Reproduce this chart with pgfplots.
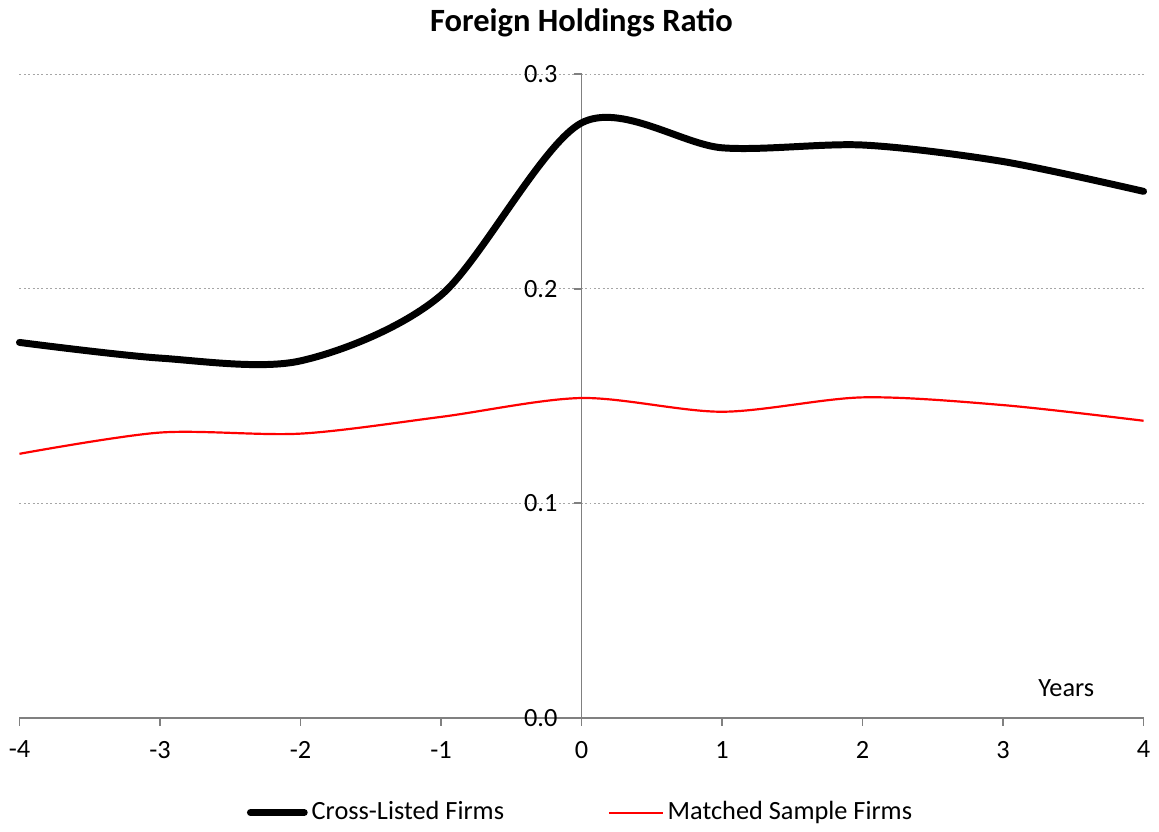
\documentclass[border=0pt]{standalone}
\usepackage{fontspec}
\setmainfont{Carlito}
\usepackage{pgfplots}
\pgfplotsset{compat=1.18}
\begin{document}
\fontsize{13.2}{15}\selectfont
\begin{tikzpicture}
\begin{axis}[
    scale only axis,
    width=564pt, height=323pt,
    xmin=-4, xmax=4, ymin=0, ymax=0.3,
    axis x line=bottom, axis y line=middle,
    axis line style={draw=gray, line width=0.9pt, -},
    hide obscured x ticks=false, hide obscured y ticks=false,
    xtick={-4,-3,-2,-1,0,1,2,3,4},
    ytick={0,0.1,0.2,0.3},
    tick align=outside,
    major tick length=4pt,
    tick style={draw=gray, line width=0.9pt},
    ymajorgrids=true,
    grid style={draw=gray!70, line width=0.4pt, dash pattern=on 1pt off 1.2pt},
    /pgf/number format/assume math mode=true,
    yticklabel={\pgfmathprintnumber[fixed, fixed zerofill, precision=1]{\tick}},
    xticklabel style={yshift=-3pt},
    yticklabel style={xshift=-3.5pt},
    title={\fontsize{16.3}{18}\selectfont\bfseries Foreign Holdings Ratio},
    title style={yshift=8pt},
    legend style={at={(0.5,-0.147)}, anchor=center, draw=none, fill=none,
        legend columns=2, font=\fontsize{13.2}{15}\selectfont,
        /tikz/every even column/.append style={column sep=50pt}},
    legend cell align=left,
    legend image code/.code={\draw[#1] (0pt,0pt) -- (27pt,0pt);},
    clip=false,
]
\addplot[black, line width=3.5pt, smooth, line cap=round] coordinates {
    (-4,0.1750) (-3,0.1677) (-2,0.1664) (-1,0.1970) (0,0.2773)
    (1,0.2657) (2,0.2670) (3,0.2593) (4,0.2454)};
\addlegendentry{Cross-Listed Firms}
\addplot[red, line width=1.1pt, smooth] coordinates {
    (-4,0.1231) (-3,0.1330) (-2,0.1325) (-1,0.1403) (0,0.1491)
    (1,0.1427) (2,0.1494) (3,0.1458) (4,0.1385)};
\addlegendentry{Matched Sample Firms}
\node at (axis cs:3.45,0.014) {Years};
\end{axis}
\end{tikzpicture}
\end{document}
